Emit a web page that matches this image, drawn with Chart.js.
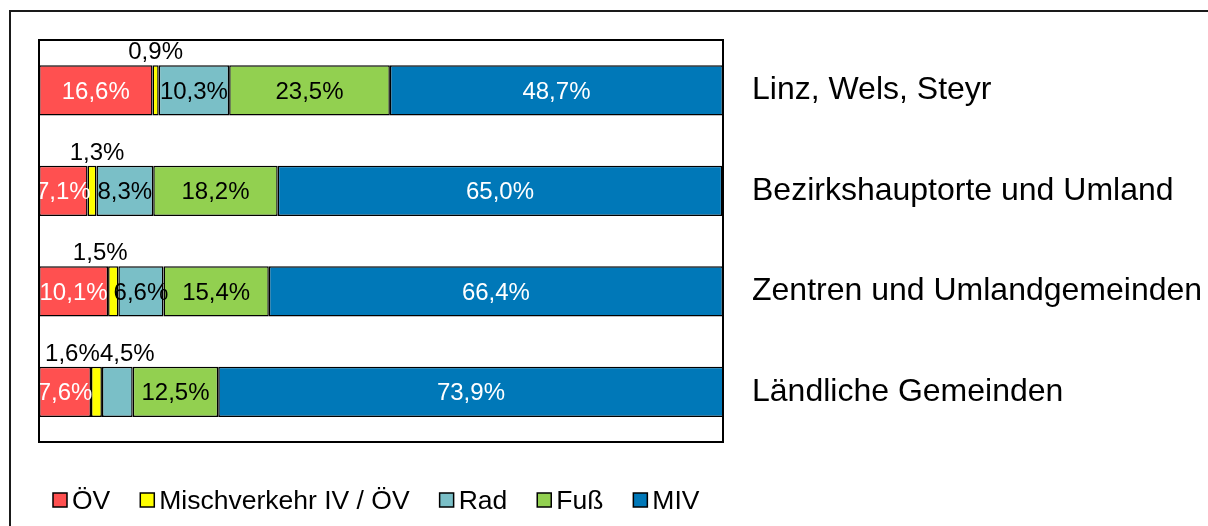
<!DOCTYPE html>
<html>
<head>
<meta charset="utf-8">
<script src="https://cdn.jsdelivr.net/npm/chart.js@4/dist/chart.umd.min.js"></script>
<style>
  html, body { margin: 0; padding: 0; background: #fff; }
  #wrap { width: 1208px; height: 526px; position: relative; }
</style>
</head>
<body>
<div id="wrap"><canvas id="c" width="1208" height="526"></canvas></div>
<script>
// ---- data ----
const categories = ["Linz, Wels, Steyr", "Bezirkshauptorte und Umland", "Zentren und Umlandgemeinden", "Ländliche Gemeinden"];
const seriesNames = ["ÖV", "Mischverkehr IV / ÖV", "Rad", "Fuß", "MIV"];
const oev   = [16.6, 7.1, 10.1, 7.6];
const misch = [0.9, 1.3, 1.5, 1.6];
const rad   = [10.3, 8.3, 6.6, 4.5];
const fuss  = [23.5, 18.2, 15.4, 12.5];
const miv   = [48.7, 65.0, 66.4, 73.9];

// ---- styles ----
const colors = ["#FF5050", "#FFFF00", "#7ABFC7", "#92D050", "#0078B8"];
const labelColors = ["#ffffff", "#000000", "#000000", "#000000", "#ffffff"];
const FONT = "'Liberation Sans', Arial, Helvetica, sans-serif";

// label placement: 'in' = centred inside segment, 'above' = above the bar
const labelPlacement = [
  ["in", "in", "in", "in"],
  ["above", "above", "above", "above"],
  ["in", "in", "in", "above"],
  ["in", "in", "in", "in"],
  ["in", "in", "in", "in"]
];
// small horizontal nudges (px) for labels above the bars
const aboveNudge = [
  [0, 0, 0, 0],
  [0, 5, -13, -24],
  [0, 0, 0, 10],
  [0, 0, 0, 0],
  [0, 0, 0, 0]
];

const fmt = v => v.toFixed(1).replace('.', ',') + '%';

const seriesValues = [oev, misch, rad, fuss, miv];

const frames = {
  id: 'frames',
  beforeDraw(chart) {
    const ctx = chart.ctx;
    ctx.save();
    ctx.fillStyle = '#fff';
    ctx.fillRect(0, 0, chart.width, chart.height);
    ctx.strokeStyle = '#1a1a1a';
    ctx.lineWidth = 2;
    ctx.strokeRect(10, 11, chart.width + 20, chart.height + 20);
    ctx.restore();
  },
  afterDatasetsDraw(chart) {
    const ctx = chart.ctx;
    const a = chart.chartArea;
    // data labels
    ctx.save();
    ctx.beginPath();
    ctx.rect(a.left, a.top, a.right - a.left, a.bottom - a.top);
    ctx.clip();
    ctx.font = '24px ' + FONT;
    ctx.textAlign = 'center';
    ctx.textBaseline = 'alphabetic';
    chart.data.datasets.forEach((ds, di) => {
      const meta = chart.getDatasetMeta(di);
      meta.data.forEach((el, i) => {
        const v = ds.data[i];
        const cx = (el.x + el.base) / 2;
        const h = el.height;
        if (labelPlacement[di][i] === 'above') {
          ctx.fillStyle = '#000';
          ctx.fillText(fmt(v), cx + aboveNudge[di][i], el.y - h / 2 - 6);
        } else {
          ctx.fillStyle = labelColors[di];
          ctx.fillText(fmt(v), cx, el.y + 8.5);
        }
      });
    });
    ctx.restore();
    // plot area frame
    ctx.save();
    ctx.strokeStyle = '#000';
    ctx.lineWidth = 2;
    ctx.strokeRect(a.left, a.top, a.right - a.left, a.bottom - a.top);
    ctx.restore();
  },
  afterDraw(chart) {
    // legend
    const ctx = chart.ctx;
    ctx.save();
    ctx.font = '26.5px ' + FONT;
    ctx.textBaseline = 'alphabetic';
    ctx.textAlign = 'left';
    let x = chart.chartArea.left + 14;
    const boxTop = 493, box = 14, baseline = 509;
    chart.data.datasets.forEach((ds, di) => {
      ctx.fillStyle = ds.backgroundColor;
      ctx.fillRect(x, boxTop, box, box);
      ctx.strokeStyle = '#000';
      ctx.lineWidth = 1.5;
      ctx.strokeRect(x, boxTop, box, box);
      ctx.fillStyle = '#000';
      ctx.fillText(ds.label, x + box + 5, baseline);
      x += box + 5 + ctx.measureText(ds.label).width + 30;
    });
    ctx.restore();
  }
};

new Chart(document.getElementById('c'), {
  type: 'bar',
  data: {
    labels: categories,
    datasets: seriesNames.map((name, k) => ({
      label: name,
      data: seriesValues[k],
      backgroundColor: colors[k],
      borderColor: '#000',
      borderWidth: 1.5,
      borderSkipped: false,
      categoryPercentage: 1.0,
      barPercentage: 0.5
    }))
  },
  options: {
    indexAxis: 'y',
    responsive: false,
    animation: false,
    devicePixelRatio: 1,
    layout: { padding: { left: 39, top: 40, bottom: 84, right: 0 } },
    plugins: { legend: { display: false }, tooltip: { enabled: false } },
    scales: {
      x: { stacked: true, min: 0, max: 100, display: false },
      y: {
        stacked: true,
        position: 'right',
        grid: { display: false, drawTicks: false },
        border: { display: false },
        ticks: {
          padding: 29,
          crossAlign: 'near',
          color: '#000',
          font: { family: FONT, size: 32 }
        },
        afterFit(scale) { scale.width = 485; scale.paddingTop = 0; scale.paddingBottom = 0; }
      }
    }
  },
  plugins: [frames]
});
</script>
</body>
</html>
